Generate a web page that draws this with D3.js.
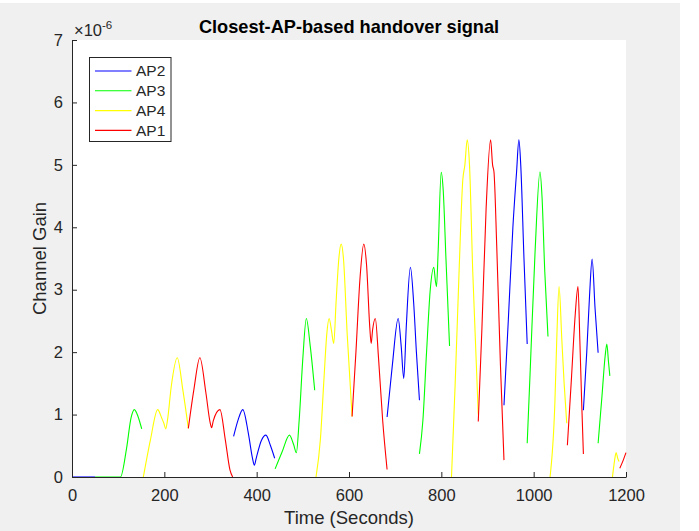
<!DOCTYPE html>
<html>
<head>
<meta charset="utf-8">
<script src="https://cdn.jsdelivr.net/npm/d3@7"></script>
<style>
    body { margin: 0; background: #ffffff; }
    text { font-family: "Liberation Sans", Arial, sans-serif; fill: #262626; }
</style>
</head>
<body>
<script>
// series in order of first appearance (legend order)
var apNames = ["AP2", "AP3", "AP4", "AP1"];
var apColors = {"AP1": "#ff0000", "AP2": "#0000ff", "AP3": "#00ff00", "AP4": "#ffff00"};

var xTicks = [0, 200, 400, 600, 800, 1000, 1200];
var yTicks = [0, 1, 2, 3, 4, 5, 6, 7];

// which AP is closest for each piece of the handover signal
var segmentAP = ["AP2", "AP3", "AP4", "AP1", "AP2", "AP3", "AP4", "AP1", "AP2", "AP3",
                 "AP4", "AP1", "AP2", "AP3", "AP4", "AP1", "AP2", "AP3", "AP4", "AP1"];

// time (s) of the points of each piece
var segmentTimes = [
    [0, 50],
    [50, 105, 118, 128, 135, 143, 151],
    [154.5, 170, 185.6, 194, 199, 203, 207, 215, 228, 240, 252],
    [252, 264, 277, 290, 299, 302.5, 306, 320.5, 332, 342, 348],
    [350, 360, 370, 382, 391, 395, 399, 410, 420, 430, 439],
    [440, 455, 471, 480, 486, 492, 500, 507.6, 516, 525.7],
    [528.6, 538, 546, 552, 557, 562, 567, 572, 578, 583, 588, 596, 606.7],
    [606.7, 615, 624, 632, 638, 645, 648, 651, 657, 664, 673, 682.5],
    [682.5, 694, 706.5, 713, 718.6, 724, 733, 740, 746, 752.6],
    [752.6, 760, 768, 776, 783.7, 787, 789.6, 793, 799.7, 804, 810, 817.8],
    [822, 830, 838, 846.6, 851, 856, 861, 868, 880],
    [880, 888, 897, 906.7, 911, 914, 920, 928, 935.7],
    [935.7, 945, 955, 963, 968, 972, 979, 986],
    [986, 993, 1003, 1013.7, 1018, 1024, 1031],
    [1035.5, 1046, 1050, 1055, 1061, 1066, 1071.6],
    [1073, 1082, 1090, 1096, 1100, 1104, 1107.7],
    [1107.7, 1115, 1121, 1126.6, 1133, 1139.6],
    [1139.6, 1148, 1155, 1158.5, 1162, 1165],
    [1170.7, 1175, 1178.6, 1182, 1185],
    [1186.6, 1193, 1200]
];

// channel gain (x 1e-6) at those times
var segmentGains = [
    [0, 0],
    [0, 0, 0.45, 0.95, 1.08, 0.97, 0.77],
    [0, 0.6, 1.08, 0.95, 0.86, 0.77, 0.92, 1.45, 1.91, 1.4, 0.78],
    [0.78, 1.4, 1.91, 1.35, 0.88, 0.79, 0.9, 1.08, 0.6, 0.12, 0],
    [0.65, 0.92, 1.08, 0.7, 0.3, 0.19, 0.3, 0.58, 0.67, 0.5, 0.3],
    [0.13, 0.4, 0.67, 0.52, 0.39, 0.9, 1.9, 2.54, 2.1, 1.39],
    [0, 0.6, 1.6, 2.3, 2.54, 2.35, 2.14, 2.8, 3.5, 3.73, 3.5, 2.3, 0.97],
    [0.97, 2.0, 3.2, 3.73, 3.4, 2.4, 2.14, 2.35, 2.54, 1.9, 0.9, 0.12],
    [0.96, 1.8, 2.54, 2.1, 1.58, 2.4, 3.36, 2.8, 2.0, 1.23],
    [0.37, 0.9, 2.0, 3.0, 3.36, 3.15, 3.05, 3.6, 4.88, 4.6, 3.5, 2.1],
    [0, 1.5, 3.2, 4.77, 5.0, 5.4, 5.0, 3.3, 1.0],
    [0.89, 2.4, 4.3, 5.4, 5.0, 4.89, 3.7, 1.8, 0.27],
    [1.15, 2.5, 4.0, 4.89, 5.4, 5.0, 3.5, 2.13],
    [0.54, 1.8, 3.6, 4.89, 4.5, 3.3, 2.25],
    [0, 1.2, 2.2, 3.05, 2.2, 1.5, 0.86],
    [0.51, 1.6, 2.6, 3.05, 2.2, 1.2, 0.37],
    [1.07, 2.0, 2.9, 3.49, 2.7, 1.99],
    [0.54, 1.3, 1.95, 2.13, 1.85, 1.62],
    [0, 0.25, 0.39, 0.3, 0.25],
    [0.14, 0.25, 0.39]
];

var width = 699;
var height = 531;
var plot = {left: 72, right: 626, top: 40, bottom: 477};

var svg = d3.select("body").append("svg")
    .attr("width", width)
    .attr("height", height);

// figure background (MATLAB grey) and white axes area
svg.append("rect")
    .attr("x", 0).attr("y", 3)
    .attr("width", 680).attr("height", height - 3)
    .attr("fill", "#f0f0f0");

svg.append("rect")
    .attr("x", plot.left).attr("y", plot.top)
    .attr("width", plot.right - plot.left)
    .attr("height", plot.bottom - plot.top)
    .attr("fill", "#ffffff");

var xScale = d3.scaleLinear()
    .domain([0, 1200])
    .range([plot.left, plot.right]);

var yScale = d3.scaleLinear()
    .domain([0, 7])
    .range([plot.bottom, plot.top]);

var line = d3.line()
    .x(function(d){ return xScale(d[0]); })
    .y(function(d){ return yScale(d[1]); })
    .curve(d3.curveMonotoneX);

var segments = segmentAP.map(function(ap, i){
    return {
        ap: ap,
        points: segmentTimes[i].map(function(t, j){ return [t, segmentGains[i][j]]; })
    };
});

svg.append("g")
    .selectAll("path")
    .data(segments)
    .enter()
    .append("path")
    .attr("d", function(d){ return line(d.points); })
    .attr("fill", "none")
    .attr("stroke", function(d){ return apColors[d.ap]; })
    .attr("stroke-width", 1.1);

// axes, ticks pointing inward like MATLAB
var xAxis = svg.append("g")
    .attr("transform", "translate(0," + plot.bottom + ")")
    .call(d3.axisBottom(xScale)
        .tickValues(xTicks)
        .tickFormat(d3.format("d"))
        .tickSizeInner(-5)
        .tickSizeOuter(0)
        .tickPadding(12));

var yAxis = svg.append("g")
    .attr("transform", "translate(" + plot.left + ",0)")
    .call(d3.axisLeft(yScale)
        .tickValues(yTicks)
        .tickFormat(d3.format("d"))
        .tickSizeInner(-5)
        .tickSizeOuter(0)
        .tickPadding(9));

[xAxis, yAxis].forEach(function(ax){
    ax.select(".domain").attr("stroke", "#262626");
    ax.selectAll(".tick line").attr("stroke", "#262626");
    ax.selectAll(".tick text")
        .attr("fill", "#262626")
        .style("font-size", "16.5px")
        .style("font-family", "'Liberation Sans', Arial, sans-serif");
});

// exponent label
var expo = svg.append("text")
    .attr("x", 74)
    .attr("y", 36)
    .style("font-size", "16.5px");
expo.append("tspan").text("\u00d710");
expo.append("tspan")
    .attr("dy", -7)
    .style("font-size", "11.5px")
    .text("-6");

svg.append("text")
    .text("Closest-AP-based handover signal")
    .attr("x", (plot.left + plot.right) / 2)
    .attr("y", 33)
    .attr("text-anchor", "middle")
    .style("font-size", "18.2px")
    .style("font-weight", "bold")
    .style("fill", "#000000");

svg.append("text")
    .text("Time (Seconds)")
    .attr("x", (plot.left + plot.right) / 2)
    .attr("y", 524)
    .attr("text-anchor", "middle")
    .style("font-size", "18.5px");

svg.append("text")
    .text("Channel Gain")
    .attr("x", 0)
    .attr("y", 0)
    .attr("text-anchor", "middle")
    .attr("transform", "translate(46," + (plot.top + plot.bottom) / 2 + ") rotate(-90)")
    .style("font-size", "18.5px");

// legend
var legend = svg.append("g");

legend.append("rect")
    .attr("x", 89.5).attr("y", 57.5)
    .attr("width", 81.5).attr("height", 84)
    .attr("fill", "#ffffff")
    .attr("stroke", "#262626")
    .attr("stroke-width", 1);

var item = legend.selectAll("g.item")
    .data(apNames)
    .enter()
    .append("g")
    .attr("class", "item")
    .attr("transform", function(d, i){ return "translate(0," + (71 + i * 19.8) + ")"; });

item.append("line")
    .attr("x1", 95).attr("x2", 131.5)
    .attr("stroke", function(d){ return apColors[d]; })
    .attr("stroke-width", 1.1);

item.append("text")
    .text(function(d){ return d; })
    .attr("x", 136)
    .attr("dy", "0.35em")
    .style("font-size", "15.5px");
</script>
</body>
</html>
